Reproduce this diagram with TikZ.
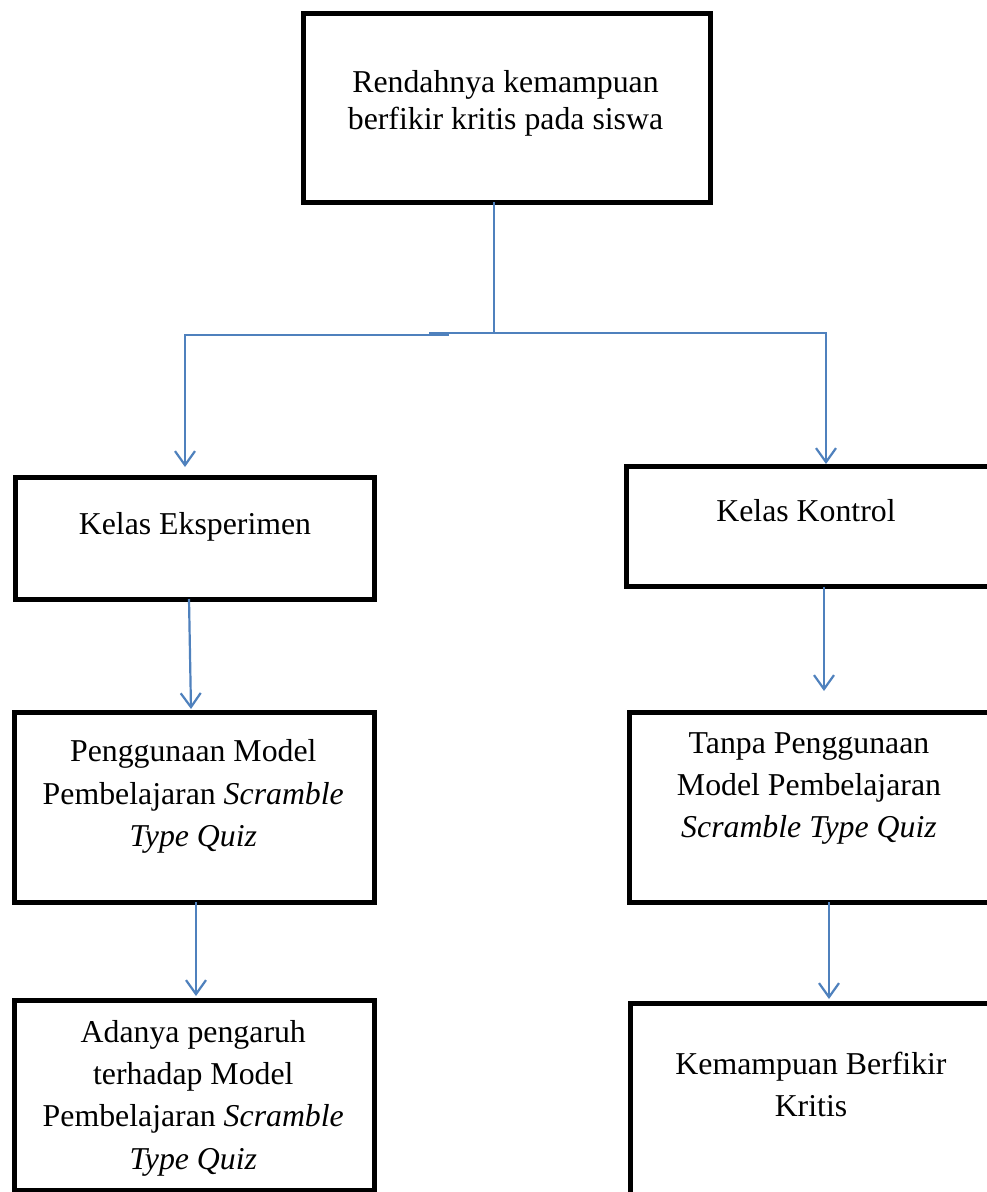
\documentclass[tikz,border=0pt]{standalone}
\usepackage{fontspec}
\setmainfont{Liberation Serif}
\usetikzlibrary{arrows.meta}
\definecolor{linkblue}{RGB}{79,129,189}
\newcommand{\boxlines}[2]{{\fontsize{31.8}{#1}\selectfont\begin{tabular}[t]{@{}c@{}}#2\end{tabular}}}
\begin{document}
\begin{tikzpicture}[x=1pt,y=-1pt,
  boxnode/.style={draw=black,line width=5pt,rectangle,inner sep=0pt,outer sep=0pt},
  txt/.style={inner sep=0pt,outer sep=0pt,anchor=base},
  conn/.style={draw=linkblue,line width=2.2pt},
  arr/.style={conn,-{Straight Barb[length=14pt,width=20pt,line width=2.2pt]}}]
\useasboundingbox (0,0) rectangle (987,1192);
\clip (0,0) rectangle (987,1192);
\fill[white] (0,0) rectangle (987,1192);
% boxes
\node[boxnode,minimum width=407pt,minimum height=189pt] (top) at (506.5,107.5) {};
\node[boxnode,minimum width=359pt,minimum height=121.5pt] (ek) at (194.5,538.25) {};
\node[boxnode,minimum width=369pt,minimum height=120.5pt] (kk) at (810.5,526.25) {};
\node[boxnode,minimum width=360.5pt,minimum height=189.5pt] (pg) at (194.25,807.25) {};
\node[boxnode,minimum width=366pt,minimum height=190pt] (tn) at (812,807) {};
\node[boxnode,minimum width=360pt,minimum height=190pt] (ad) at (194,1095) {};
\node[boxnode,minimum width=365pt,minimum height=197pt] (km) at (812.5,1101.5) {};
% texts
\node[txt] (t0) at (505.5,92.7) {\boxlines{36.5}{Rendahnya kemampuan\\berfikir kritis pada siswa}};
\node[txt] (t1) at (195,534) {\boxlines{42}{Kelas Eksperimen}};
\node[txt] (t2) at (806,521.7) {\boxlines{42}{Kelas Kontrol}};
\node[txt] (t3) at (193.3,761.7) {\boxlines{42.5}{Penggunaan Model\\Pembelajaran \textit{Scramble}\\\textit{Type Quiz}}};
\node[txt] (t4) at (809,753) {\boxlines{42}{Tanpa Penggunaan\\Model Pembelajaran\\\textit{Scramble Type Quiz}}};
\node[txt] (t5) at (193.3,1042.7) {\boxlines{42.1}{Adanya pengaruh\\terhadap Model\\Pembelajaran \textit{Scramble}\\\textit{Type Quiz}}};
\node[txt] (t6) at (811,1074) {\boxlines{42}{Kemampuan Berfikir\\Kritis}};
% connector coordinates
\coordinate (j) at (494,333);
\coordinate (hl) at (449,335);
\coordinate (lc) at (185,335);
\coordinate (ekin) at (185,467);
\coordinate (hr) at (429,333);
\coordinate (rc) at (826,333);
\coordinate (kkin) at (826,464);
\coordinate (tnin) at (824,691);
% connectors
\draw[conn] ([xshift=-12.5pt]top.south) -- (j);
\draw[arr] (hl) -- (lc) -- (ekin);
\draw[arr] (hr) -- (rc) -- (kkin);
\draw[arr] ([xshift=-5.5pt]ek.south) -- ([xshift=-3.25pt,yshift=3.5pt]pg.north);
\draw[arr] ([xshift=13.5pt]kk.south) -- (tnin);
\draw[arr] ([xshift=1.75pt]pg.south) -- ([xshift=2pt,yshift=4pt]ad.north);
\draw[arr] ([xshift=17pt]tn.south) -- ([xshift=16.5pt,yshift=4pt]km.north);
\end{tikzpicture}
\end{document}
